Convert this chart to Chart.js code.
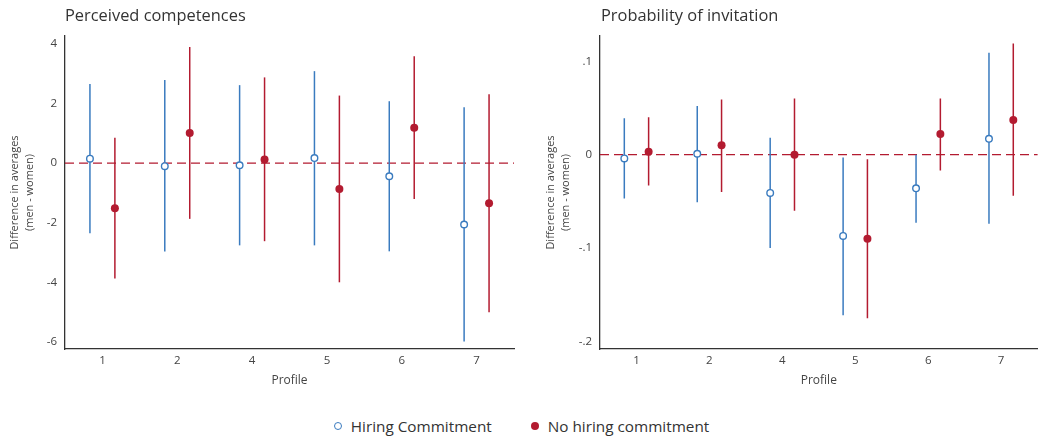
<!DOCTYPE html>
<html>
<head>
<meta charset="utf-8">
<script src="https://cdn.jsdelivr.net/npm/chart.js@4.4.1/dist/chart.umd.min.js"></script>
<style>
  body { margin: 0; background: #fff; font-family: "Open Sans", sans-serif; }
  #wrap { position: relative; width: 1043px; height: 440px; overflow: hidden; }
  canvas { position: absolute; top: 0; }
  .ttl { position: absolute; top: 3px; font-size: 16.4px; color: #333; white-space: nowrap; }
  #legend { position: absolute; top: 415px; left: 0; width: 1043px; display: flex; justify-content: center;
            font-size: 15.3px; color: #333; line-height: 22px; }
  .item { display: flex; align-items: center; margin: 0 17px; }
  .sym { width: 7px; height: 7px; border-radius: 50%; margin-right: 9px; box-sizing: border-box; }
</style>
</head>
<body>
<div id="wrap">
  <canvas id="c1" width="520" height="400" style="left:0"></canvas>
  <canvas id="c2" width="507" height="400" style="left:536px"></canvas>
  <div class="ttl" style="left:65px">Perceived competences</div>
  <div class="ttl" style="left:601px">Probability of invitation</div>
  <div id="legend">
    <div class="item"><span class="sym" style="border:1.5px solid #3a7bbf;background:#fff;width:8px;height:8px"></span>Hiring Commitment</div>
    <div class="item" style="margin-left:22px"><span class="sym" style="background:#b31b30;width:8px;height:8px"></span>No hiring commitment</div>
  </div>
</div>
<script>
const blue = '#3a7bbf';
const red = '#b31b30';

const profiles = ['1', '2', '4', '5', '6', '7'];

// Perceived competences (difference men - women), point + 95% CI
const compHire   = [0.15, -0.10, -0.07, 0.17, -0.44, -2.06];
const compHireLo = [-2.35, -2.97, -2.76, -2.76, -2.96, -5.99];
const compHireHi = [2.66, 2.79, 2.62, 3.09, 2.08, 1.88];
const compNo     = [-1.51, 1.01, 0.12, -0.87, 1.19, -1.35];
const compNoLo   = [-3.87, -1.87, -2.62, -4.00, -1.20, -5.01];
const compNoHi   = [0.85, 3.90, 2.88, 2.27, 3.59, 2.31];
const compTicks  = [-6, -4, -2, 0, 2, 4];
const compTickLabels = ['-6', '-4', '-2', '0', '2', '4'];

// Probability of invitation
const invHire   = [-0.004, 0.001, -0.041, -0.087, -0.036, 0.017];
const invHireLo = [-0.047, -0.051, -0.100, -0.172, -0.073, -0.074];
const invHireHi = [0.039, 0.052, 0.018, -0.003, 0.000, 0.109];
const invNo     = [0.003, 0.010, 0.000, -0.090, 0.022, 0.037];
const invNoLo   = [-0.033, -0.040, -0.060, -0.175, -0.017, -0.044];
const invNoHi   = [0.040, 0.059, 0.060, -0.005, 0.060, 0.119];
const invTicks  = [-0.2, -0.1, 0, 0.1];
const invTickLabels = ['-.2', '-.1', '0', '.1'];

const dodge = 1 / 6;

// red dashed reference line at zero
const zeroLine = {
  id: 'zeroLine',
  beforeDatasetsDraw(chart) {
    const { ctx, chartArea, scales } = chart;
    const y = scales.y.getPixelForValue(0);
    ctx.save();
    ctx.strokeStyle = red;
    ctx.lineWidth = 1.2;
    ctx.setLineDash([9, 5]);
    ctx.beginPath();
    ctx.moveTo(chartArea.left, y);
    ctx.lineTo(chartArea.right, y);
    ctx.stroke();
    ctx.restore();
  }
};

function makeChart(id, hire, hireLo, hireHi, no, noLo, noHi, yMin, yMax, ticks, tickLabels, axisW, padRight) {
  const tickFont = { family: '"Open Sans", sans-serif', size: 11.5 };
  new Chart(document.getElementById(id), {
    type: 'bar',
    data: {
      datasets: [
        {
          type: 'scatter', order: 0,
          data: hire.map((v, i) => ({ x: i - dodge, y: v })),
          pointRadius: 3.3, pointBorderWidth: 1.4,
          pointBackgroundColor: '#fff', pointBorderColor: blue
        },
        {
          type: 'scatter', order: 0,
          data: no.map((v, i) => ({ x: i + dodge, y: v })),
          pointRadius: 4, pointBorderWidth: 0,
          pointBackgroundColor: red, pointBorderColor: red
        },
        {
          order: 1, grouped: false, maxBarThickness: 1.5,
          data: hireLo.map((v, i) => ({ x: i - dodge, y: [v, hireHi[i]] })),
          backgroundColor: blue
        },
        {
          order: 1, grouped: false, maxBarThickness: 1.5,
          data: noLo.map((v, i) => ({ x: i + dodge, y: [v, noHi[i]] })),
          backgroundColor: red
        }
      ]
    },
    options: {
      responsive: false,
      animation: false,
      layout: { padding: { top: 36, right: padRight, left: 0, bottom: 0 } },
      plugins: { legend: { display: false }, tooltip: { enabled: false } },
      scales: {
        x: {
          type: 'linear', min: -0.5, max: 5.5, offset: false,
          grid: { display: false, drawTicks: false },
          border: { display: true, color: '#333', width: 1.3 },
          afterBuildTicks: s => { s.ticks = profiles.map((p, i) => ({ value: i })); },
          afterFit: s => { s.height = 51; },
          ticks: {
            color: '#444', font: tickFont, padding: 5, maxRotation: 0,
            callback: v => profiles[v]
          },
          title: { display: true, text: 'Profile', color: '#444', font: { family: '"Open Sans", sans-serif', size: 12 }, padding: { bottom: 12 } }
        },
        y: {
          min: yMin, max: yMax,
          grid: { display: false, drawTicks: false },
          border: { display: true, color: '#333', width: 1.3 },
          afterBuildTicks: s => { s.ticks = ticks.map(v => ({ value: v })); },
          afterFit: s => { s.width = axisW; },
          ticks: {
            color: '#444', font: tickFont, padding: 8,
            callback: (v, i) => tickLabels[i]
          },
          title: {
            display: true, text: ['Difference in averages', '(men - women)'],
            color: '#444', font: { family: '"Open Sans", sans-serif', size: 11, lineHeight: 1.3 }, padding: { top: 8 }
          }
        }
      }
    },
    plugins: [zeroLine]
  });
}

makeChart('c1', compHire, compHireLo, compHireHi, compNo, compNoLo, compNoHi, -6.24, 4.27, compTicks, compTickLabels, 65, 6);
makeChart('c2', invHire, invHireLo, invHireHi, invNo, invNoLo, invNoHi, -0.208, 0.127, invTicks, invTickLabels, 64, 0);
</script>
</body>
</html>
